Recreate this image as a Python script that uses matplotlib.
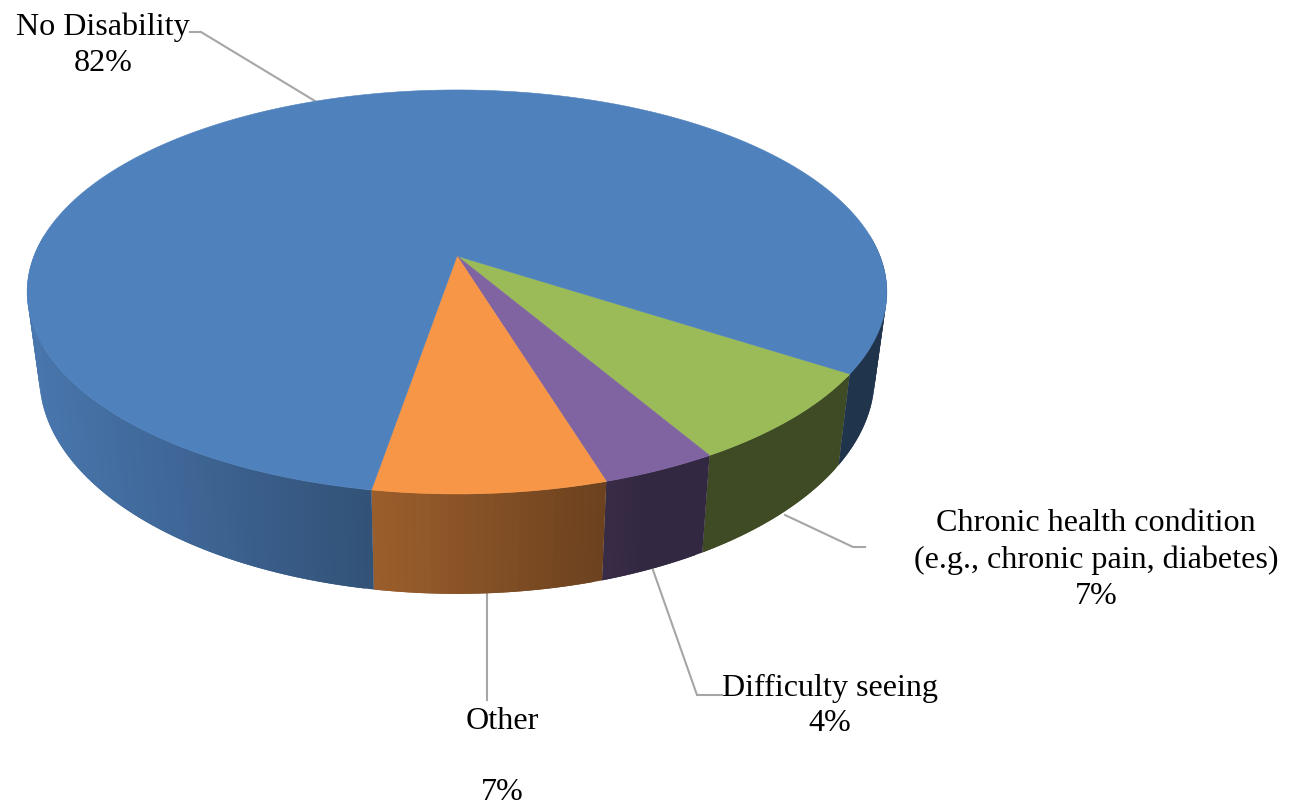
import numpy as np
import matplotlib
matplotlib.use("Agg")
import matplotlib.pyplot as plt
from matplotlib.colors import to_rgb

categories = ["Chronic health condition\n(e.g., chronic pain, diabetes)", "Difficulty seeing", "Other\n", "No Disability"]
values = [7.4, 3.7, 7.4, 81.5]
colors = ["#9bbb59", "#8064a2", "#f79646", "#4f81bd"]
label_pos = [(1096, 560), (830, 706), (502, 757), (103, 45)]
leaders = [
    [(865, 547), (853, 547), (785, 515)],
    [(722, 695), (697, 695), (653, 570)],
    [(487, 594), (487, 700)],
    [(190, 32), (201, 32), (315, 101)],
]

START_DEG = 33.0
CX = 457


def project(t, ox, oy):
    """Perspective projection of a unit circle; ox, oy give the plane's scale."""
    A, B, Y0, k = ox, oy[0], oy[1], 0.178
    u, v = np.cos(t), np.sin(t)
    w = 1 - k * v
    return CX + A * u / w, Y0 + B * v / w


def top(t):
    return project(t, 423, (195.6, 256))


def bottom(t):
    return project(t, 411, (210, 338.4))


def shade(c, x):
    s = np.clip(0.43 + (605 - x) * 0.00085, 0.40, 1.0)
    return tuple(np.array(to_rgb(c)) * s)


fig = plt.figure(figsize=(12.94, 8.08), dpi=100)
ax = fig.add_axes([0, 0, 1, 1])
ax.set_xlim(0, 1294)
ax.set_ylim(808, 0)
ax.axis("off")

angles = np.cumsum([0] + values) / sum(values) * 360 + START_DEG
WALL_STEP = 1.0
# walls: the visible front half of the drum, drawn under the top face
for i, c in enumerate(colors):
    a0, a1 = angles[i], angles[i + 1]
    for s0, s1 in [(a0, a1), (a0 - 360, a1 - 360)]:
        lo, hi = max(s0, -6), min(s1, 186)
        if hi <= lo:
            continue
        ts = np.radians(np.r_[np.arange(lo, hi, WALL_STEP), hi])
        for j in range(len(ts) - 1):
            t0, t1 = ts[j], ts[min(j + 2, len(ts) - 1)]  # overlap the next strip to hide seams
            x0, y0 = top(t0)
            x1, y1 = top(t1)
            x2, y2 = bottom(t1)
            x3, y3 = bottom(t0)
            col = shade(c, (x0 + x1 + x2 + x3) / 4)
            ax.fill([x0, x1, x2, x3], [y0, y1, y2, y3], color=col, lw=0, zorder=2)

# top face
for i, c in enumerate(colors):
    ts = np.radians(np.linspace(angles[i], angles[i + 1], 400))
    x, y = top(ts)
    ax.fill(np.r_[CX, x], np.r_[256, y], color=c, lw=0.4, zorder=3)

# leader lines and labels
for pts in leaders:
    xs, ys = zip(*pts)
    ax.plot(xs, ys, color="#a6a6a6", lw=1.5, zorder=1, solid_joinstyle="miter")

for cat, val, (lx, ly) in zip(categories, values, label_pos):
    ax.text(lx, ly, f"{cat}\n{round(val)}%", ha="center", va="center", color="black",
            family="Liberation Serif", fontsize=23.1, linespacing=1.31, zorder=5)

fig.savefig("out.png", dpi=100, facecolor="white")
